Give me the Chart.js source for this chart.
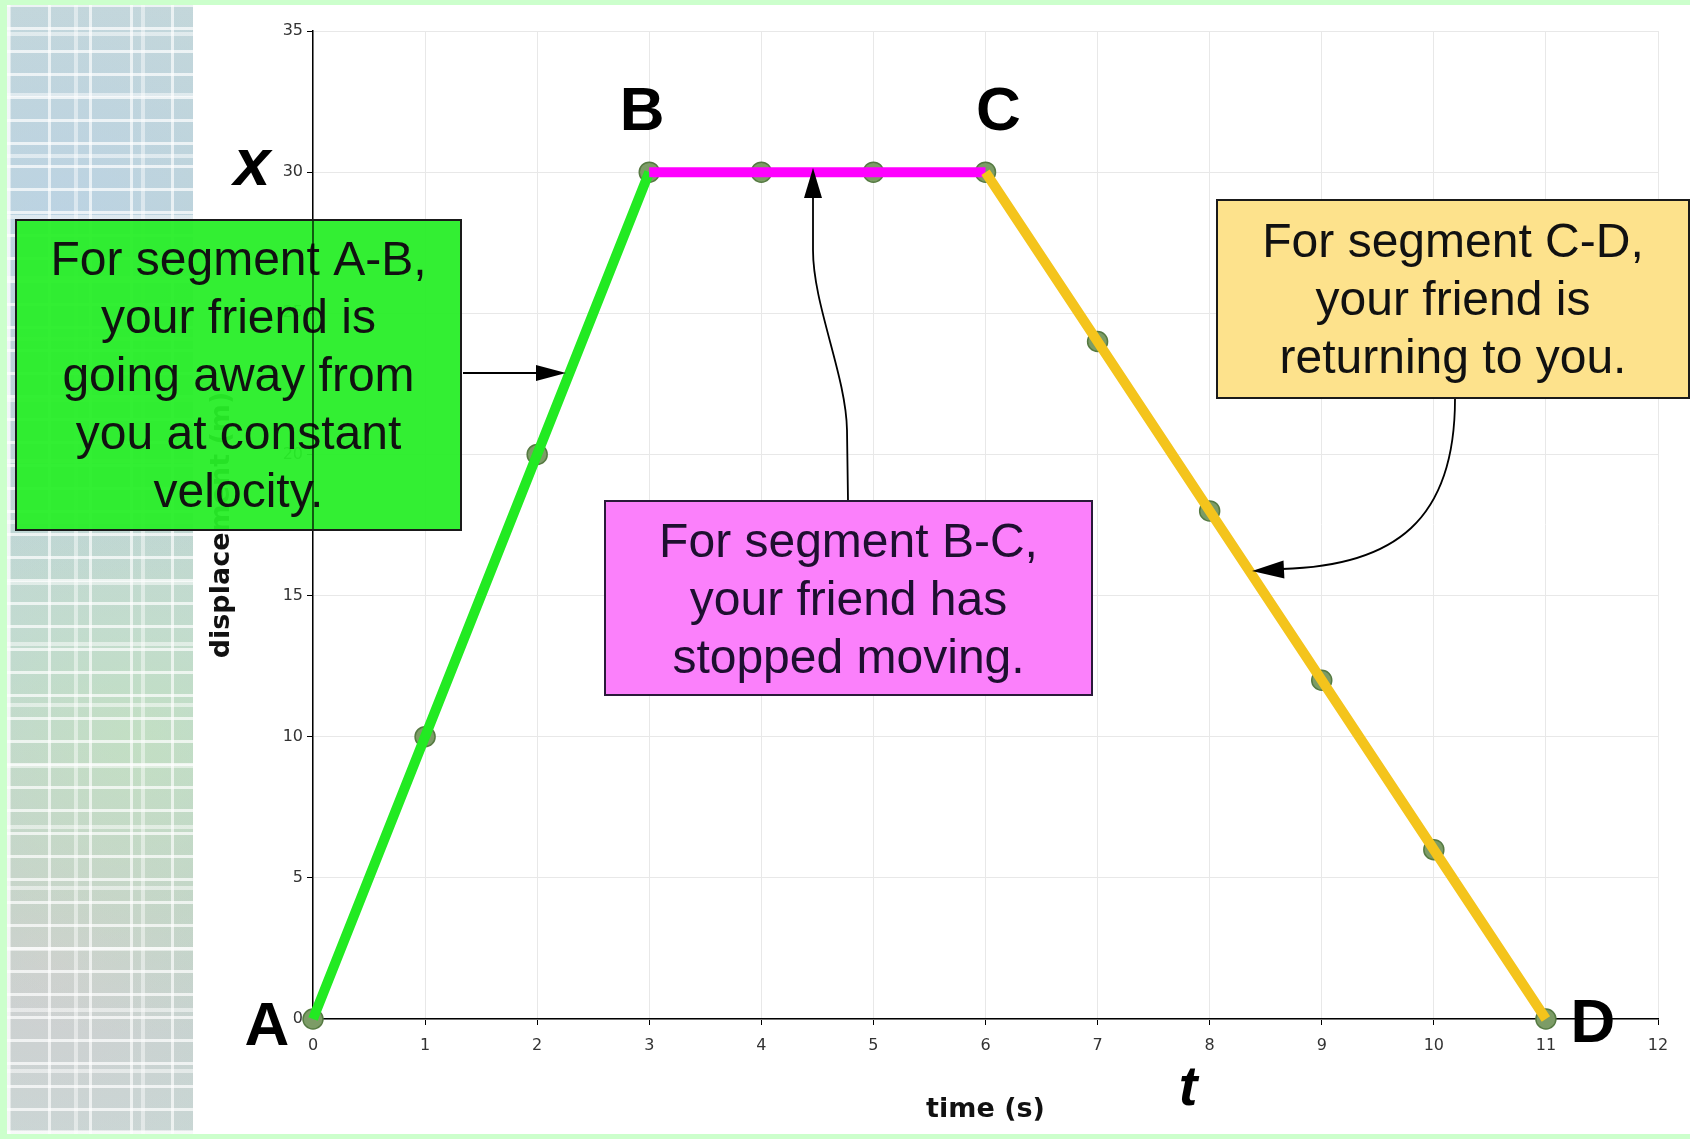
<!DOCTYPE html>
<html>
<head>
<meta charset="utf-8">
<script src="https://cdn.jsdelivr.net/npm/chart.js@4.4.1/dist/chart.umd.min.js"></script>
<style>
  html, body { margin: 0; padding: 0; }
  body { width: 1690px; height: 1139px; background: #ccffcc; position: relative; overflow: hidden; }
  #panel { position: absolute; left: 7px; top: 5px; width: 1683px; height: 1129px; background: #fff; }
  #strip {
    position: absolute; left: 7px; top: 5px; width: 186px; height: 1129px;
    background:
      repeating-linear-gradient(0deg, rgba(255,255,255,0.7) 0 3px, rgba(255,255,255,0) 3px 23px),
      repeating-linear-gradient(0deg, rgba(255,255,255,0.5) 0 4px, rgba(255,255,255,0) 4px 61px),
      repeating-linear-gradient(90deg, rgba(255,255,255,0.65) 0 3px, rgba(255,255,255,0) 3px 41px),
      repeating-linear-gradient(90deg, rgba(255,255,255,0.45) 0 4px, rgba(255,255,255,0) 4px 67px),
      radial-gradient(circle at 30% 20%, rgba(185,210,240,0.6), rgba(185,210,240,0) 40%),
      radial-gradient(circle at 70% 65%, rgba(195,230,185,0.6), rgba(195,230,185,0) 40%),
      radial-gradient(circle at 25% 85%, rgba(235,200,215,0.4), rgba(235,200,215,0) 30%),
      linear-gradient(180deg, #c6d8d6 0%, #bcd2cd 30%, #c2d6d9 55%, #bad3ca 80%, #c5d8d4 100%);
  }
  #c { position: absolute; left: 0; top: 0; }
</style>
</head>
<body>
<div id="panel"></div>
<div id="strip"></div>
<canvas id="c" width="1690" height="1139"></canvas>
<script>
// position-time data
const timeS = [0, 1, 2, 3, 4, 5, 6, 7, 8, 9, 10, 11];
const displacementM = [0, 10, 20, 30, 30, 30, 30, 24, 18, 12, 6, 0];

// segments A-B, B-C, C-D (index ranges into the arrays above)
const segmentStart = [0, 3, 6];
const segmentEnd = [3, 6, 11];
const segmentColors = ['#22ea22', '#ff00ff', '#f4c41c'];

// corner letters and the point each one belongs to
const pointLetters = ['A', 'B', 'C', 'D'];
const letterIndex = [0, 3, 6, 11];
const letterOffset = [[-46, 26], [-7, -42], [13, -42], [47, 23]];

const greenText = ['For segment A-B,', 'your friend is', 'going away from', 'you at constant', 'velocity.'];
const pinkText = ['For segment B-C,', 'your friend has', 'stopped moving.'];
const yellowText = ['For segment C-D,', 'your friend is', 'returning to you.'];

const xyPoints = (from, to) => timeS.slice(from, to + 1).map((t, i) => ({ x: t, y: displacementM[from + i] }));

const datasets = segmentStart.map((s, k) => ({
    label: 'segment ' + k,
    data: xyPoints(s, segmentEnd[k]),
    borderColor: segmentColors[k],
    borderWidth: 10,
    pointRadius: 0,
    tension: 0,
    clip: false,
    order: 3 - k
}));
datasets.push({
    label: 'points',
    data: xyPoints(0, timeS.length - 1),
    showLine: false,
    pointRadius: 10,
    pointBackgroundColor: '#7c9c66',
    pointBorderColor: '#557a42',
    pointBorderWidth: 1.5,
    clip: false,
    order: 10
});

function drawBox(ctx, x, y, w, h, fill, stroke, lines, cx, firstBase, color) {
    ctx.fillStyle = fill;
    ctx.fillRect(x, y, w, h);
    ctx.strokeStyle = stroke;
    ctx.lineWidth = 2;
    ctx.strokeRect(x, y, w, h);
    ctx.fillStyle = color;
    ctx.font = '48px "Liberation Sans", Arial, sans-serif';
    ctx.textAlign = 'center';
    ctx.textBaseline = 'alphabetic';
    lines.forEach((t, i) => ctx.fillText(t, cx, firstBase + i * 58));
}

function arrowHead(ctx, tipX, tipY, dx, dy, len, half) {
    const n = Math.hypot(dx, dy);
    const ux = dx / n, uy = dy / n;
    const bx = tipX - ux * len, by = tipY - uy * len;
    ctx.beginPath();
    ctx.moveTo(tipX, tipY);
    ctx.lineTo(bx - uy * half, by + ux * half);
    ctx.lineTo(bx + uy * half, by - ux * half);
    ctx.closePath();
    ctx.fill();
}

const annotations = {
    id: 'annotations',
    afterDatasetsDraw(chart) {
        const ctx = chart.ctx;
        const xs = chart.scales.x, ys = chart.scales.y;
        ctx.save();

        // big letters at the corners
        ctx.fillStyle = '#000';
        ctx.font = 'bold 62px "Liberation Sans", Arial, sans-serif';
        ctx.textAlign = 'center';
        ctx.textBaseline = 'alphabetic';
        pointLetters.forEach((L, i) => {
            const k = letterIndex[i];
            const px = xs.getPixelForValue(timeS[k]) + letterOffset[i][0];
            const py = ys.getPixelForValue(displacementM[k]) + letterOffset[i][1];
            ctx.fillText(L, px, py);
        });

        ctx.font = 'italic bold 66px "Liberation Sans", Arial, sans-serif';
        ctx.fillText('x', 252, 185);
        ctx.font = 'italic bold 56px "Liberation Sans", Arial, sans-serif';
        ctx.fillText('t', 1188, 1105);

        // arrows
        ctx.strokeStyle = '#000';
        ctx.fillStyle = '#000';
        ctx.lineWidth = 1.8;
        ctx.beginPath();
        ctx.moveTo(463, 373);
        ctx.lineTo(540, 373);
        ctx.stroke();
        arrowHead(ctx, 566, 373, 1, 0, 30, 8);

        ctx.beginPath();
        ctx.moveTo(848, 501);
        ctx.lineTo(847, 430);
        ctx.bezierCurveTo(846, 375, 813, 305, 813, 250);
        ctx.lineTo(813, 196);
        ctx.stroke();
        arrowHead(ctx, 813, 168, 0, -1, 30, 9);

        ctx.beginPath();
        ctx.moveTo(1455, 399);
        ctx.bezierCurveTo(1455, 520, 1395, 566, 1282, 569);
        ctx.stroke();
        arrowHead(ctx, 1252, 571, -1, 0.05, 32, 9);

        // text boxes
        drawBox(ctx, 16, 220, 445, 310, 'rgba(40,238,40,0.95)', '#1a1a1a', greenText, 238.5, 275, '#111');
        drawBox(ctx, 605, 501, 487, 194, '#fb80fb', '#2a1a3a', pinkText, 848.5, 557, '#1e0f30');
        drawBox(ctx, 1217, 200, 472, 198, '#fde28c', '#1a1a1a', yellowText, 1453, 257, '#111');

        // y axis line shows through the green box
        const ax = chart.chartArea.left;
        ctx.strokeStyle = 'rgba(0,0,0,0.8)';
        ctx.lineWidth = 1.5;
        ctx.beginPath();
        ctx.moveTo(ax, 221);
        ctx.lineTo(ax, 529);
        ctx.stroke();
        ctx.restore();
    }
};

new Chart(document.getElementById('c'), {
    type: 'line',
    data: { datasets: datasets },
    plugins: [annotations],
    options: {
        responsive: false,
        animation: false,
        layout: { padding: { left: 193, right: 32, top: 31, bottom: 0 } },
        plugins: { legend: { display: false }, tooltip: { enabled: false } },
        scales: {
            x: {
                type: 'linear',
                min: 0,
                max: 12,
                afterFit: (s) => { s.height = 120; },
                ticks: { stepSize: 1, padding: 11, color: '#333', font: { family: 'DejaVu Sans', size: 16 } },
                grid: { color: '#e8e8e8', tickColor: '#000', tickLength: 6 },
                border: { color: '#000', width: 1.5 },
                title: {
                    display: true,
                    text: 'time (s)',
                    color: '#111',
                    font: { family: 'DejaVu Sans', size: 27, weight: 'bold' },
                    padding: { top: 0, bottom: 13 }
                }
            },
            y: {
                min: 0,
                max: 35,
                afterFit: (s) => { s.width = 120; },
                ticks: { stepSize: 5, padding: 4, color: '#333', font: { family: 'DejaVu Sans', size: 16 } },
                grid: { color: '#e8e8e8', tickColor: '#000', tickLength: 6 },
                border: { color: '#000', width: 1.5 },
                title: {
                    display: true,
                    text: 'displacement (m)',
                    color: '#111',
                    font: { family: 'DejaVu Sans', size: 27, weight: 'bold' },
                    padding: { top: 13, bottom: 0 }
                }
            }
        }
    }
});
</script>
</body>
</html>
